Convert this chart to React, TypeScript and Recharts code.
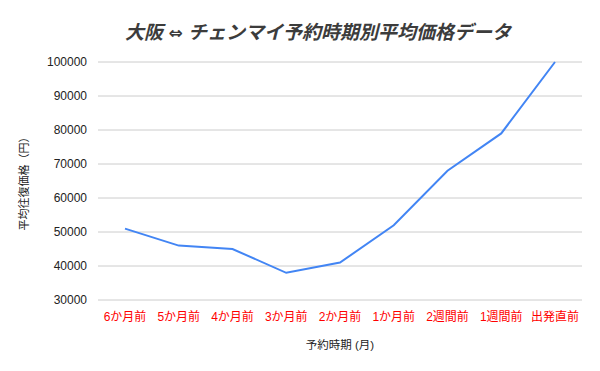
import React from "react";
import { LineChart, Line, XAxis, YAxis, CartesianGrid, Label } from "recharts";

const periods = ["6か月前", "5か月前", "4か月前", "3か月前", "2か月前", "1か月前", "2週間前", "1週間前", "出発直前"];
const avgPrices = [51000, 46000, 45000, 38000, 41000, 52000, 68000, 79000, 100000];
const yTicks = [30000, 40000, 50000, 60000, 70000, 80000, 90000, 100000];

const data = periods.map((name, i) => ({ name, price: avgPrices[i] }));

const FONT = "'Liberation Sans', Arial, 'Noto Sans CJK JP', sans-serif";

export default function App() {
  return (
    <div style={{ position: "absolute", left: 0, top: 0, width: 600, height: 371, background: "#fff", fontFamily: FONT }}>
      <div
        style={{
          position: "absolute",
          top: 17,
          left: 0,
          width: 636,
          textAlign: "center",
          fontSize: 19,
          fontWeight: "bold",
          fontStyle: "italic",
          color: "#3c3c3c",
        }}
      >
        大阪 <span style={{ fontFamily: "'DejaVu Sans'", fontSize: 17 }}>⇔</span> チェンマイ予約時期別平均価格データ
      </div>
      <LineChart width={600} height={371} data={data} margin={{ top: 62, right: 18, bottom: 11, left: 0 }}>
        <CartesianGrid vertical={false} stroke="#cccccc" />
        <XAxis
          dataKey="name"
          height={60}
          padding={{ left: 27, right: 27 }}
          tickLine={false}
          axisLine={false}
          interval={0}
          tick={{ fill: "#ff0000", fontSize: 12, fontFamily: FONT }}
          tickMargin={6}
        >
          <Label value="予約時期 (月)" position="insideBottom" offset={11} fill="#222" fontSize={11.5} fontFamily={FONT} />
        </XAxis>
        <YAxis
          width={98}
          domain={[30000, 100000]}
          ticks={yTicks}
          tickLine={false}
          axisLine={false}
          tickMargin={5}
          tick={{ fill: "#222", fontSize: 12, fontFamily: FONT }}
        >
          <Label value="平均往復価格（円）" angle={-90} position="insideLeft" offset={24} fill="#222" fontSize={11} fontFamily={FONT} style={{ textAnchor: "middle" }} />
        </YAxis>
        <Line type="linear" dataKey="price" stroke="#4285f4" strokeWidth={2} dot={false} isAnimationActive={false} />
      </LineChart>
    </div>
  );
}
